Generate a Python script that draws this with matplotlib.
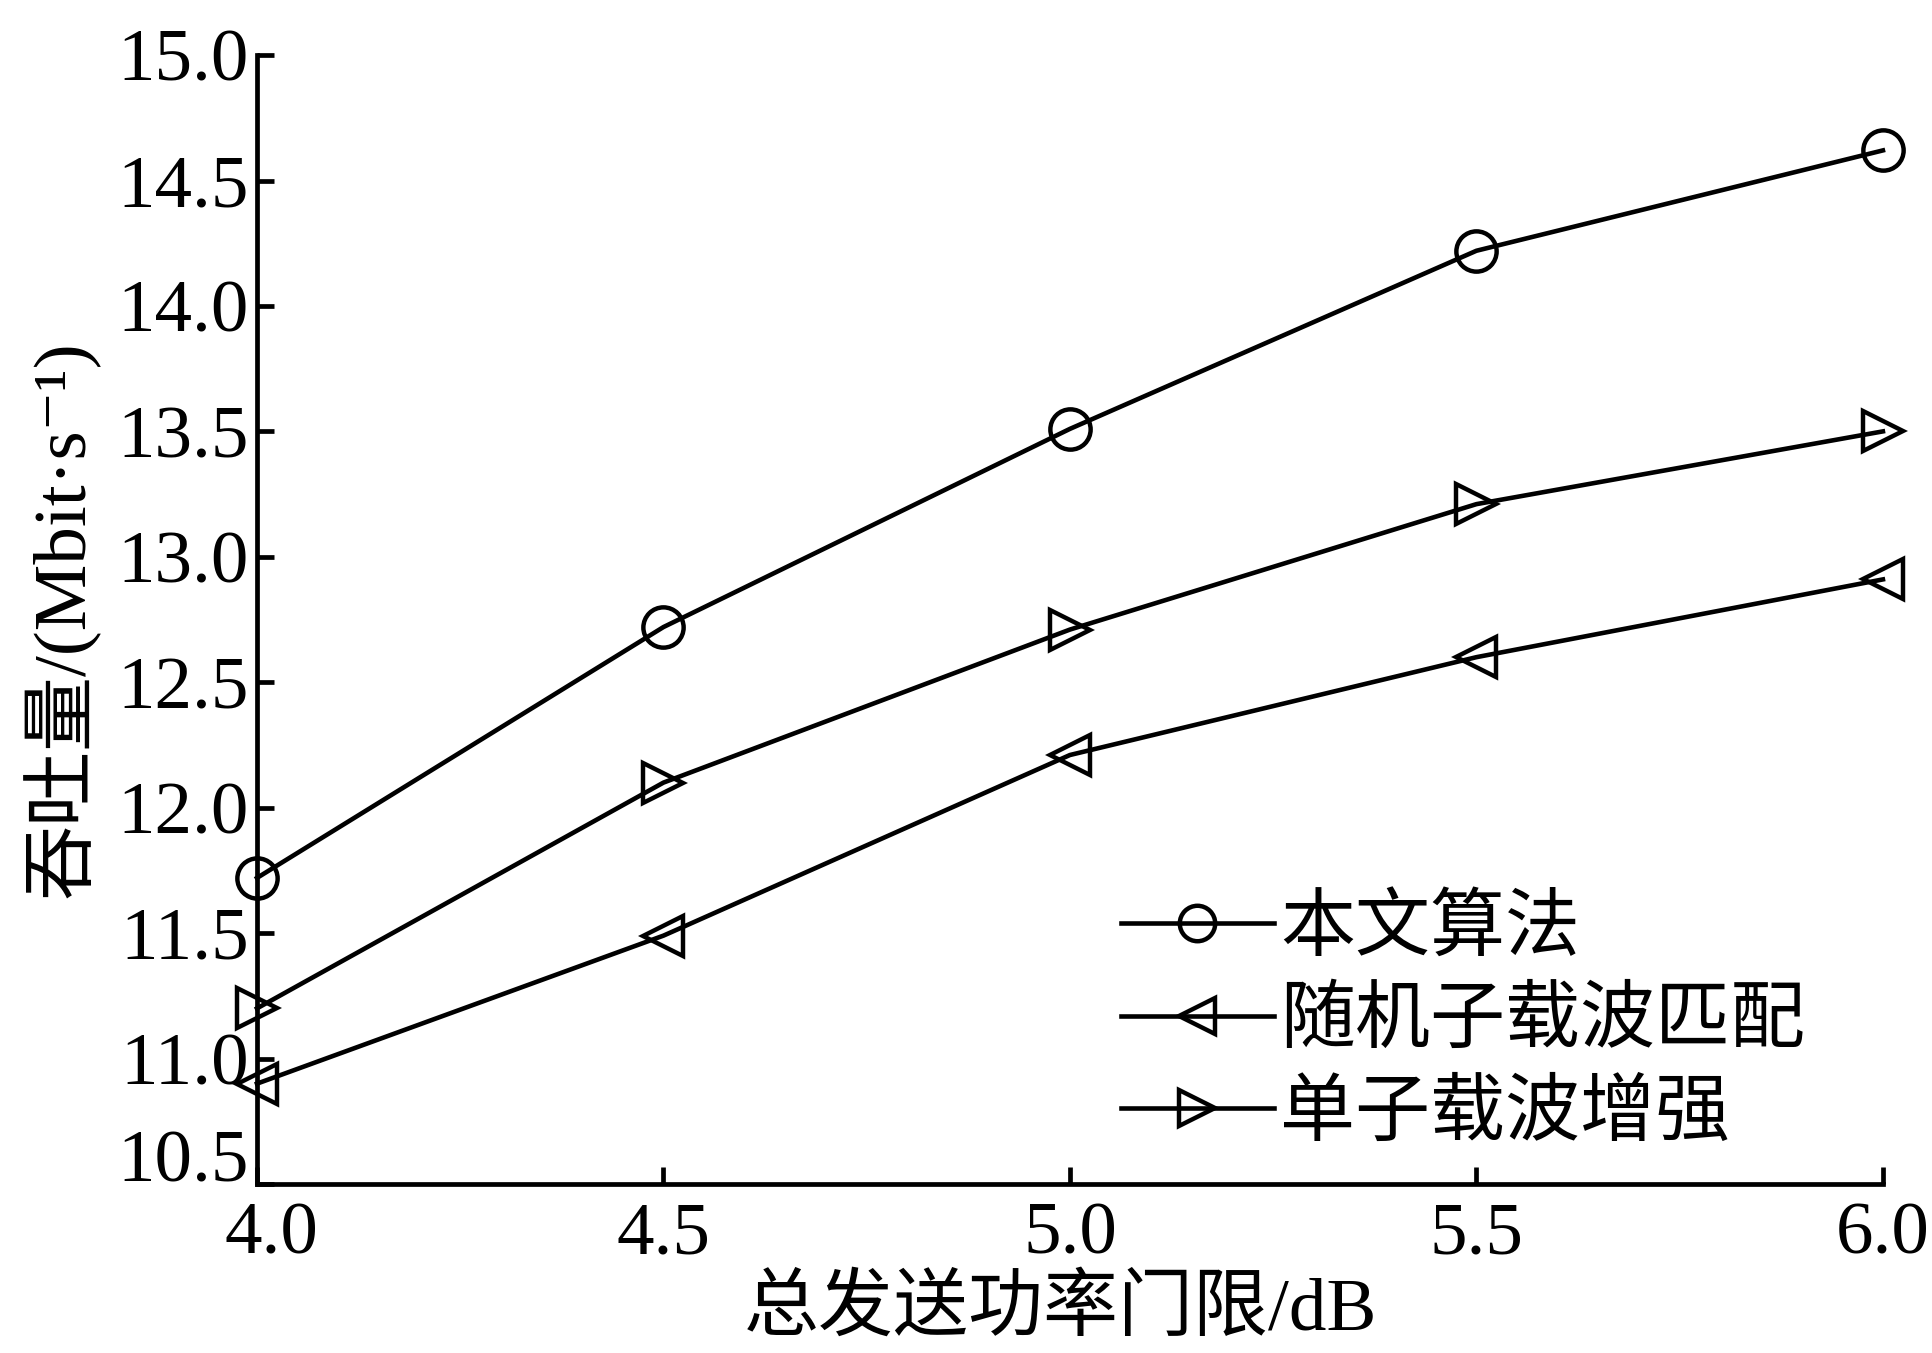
import numpy as np
import matplotlib
matplotlib.use("Agg")
import matplotlib.pyplot as plt
import matplotlib.transforms as mtransforms

# power threshold (dB)
x = [4.0, 4.5, 5.0, 5.5, 6.0]

# throughput (Mbit/s)
proposed = [11.72, 12.72, 13.51, 14.22, 14.62]   # 本文算法
random_match = [10.90, 11.49, 12.21, 12.60, 12.91]   # 随机子载波匹配
single_enh = [11.20, 12.10, 12.71, 13.21, 13.50]   # 单子载波增强

labels = ["本文算法", "随机子载波匹配", "单子载波增强"]
xticks = [4.0, 4.5, 5.0, 5.5, 6.0]
yticks = [10.5, 11.0, 11.5, 12.0, 12.5, 13.0, 13.5, 14.0, 14.5, 15.0]

fam = ["Liberation Serif", "DejaVu Serif", "Noto Sans CJK SC"]
plt.rcParams["font.family"] = fam

fig = plt.figure(figsize=(19.32, 13.53), dpi=100)
ax = fig.add_axes([0.133, 0.1249, 0.9746 - 0.133, 0.9593 - 0.1249])

lw = 3.3
common = dict(color="black", lw=lw, markersize=29, markerfacecolor="none",
              markeredgewidth=3.2, clip_on=False)
ax.plot(x, proposed, marker="o", label=labels[0], **common)
ax.plot(x, random_match, marker="<", label=labels[1], **common)
ax.plot(x, single_enh, marker=">", label=labels[2], **common)

ax.set_xlim(4.0, 6.0)
ax.set_ylim(10.5, 15.0)
ax.set_xticks(xticks)
ax.set_yticks(yticks)
ax.set_xticklabels(["%.1f" % v for v in xticks])
ax.set_yticklabels(["%.1f" % v for v in yticks])

for s in ["top", "right"]:
    ax.spines[s].set_visible(False)
for s in ["left", "bottom"]:
    ax.spines[s].set_linewidth(3.4)

ax.tick_params(direction="in", length=12, width=3.4, labelsize=54,
               top=False, right=False)
ax.tick_params(axis="y", pad=6)
ax.tick_params(axis="x", pad=13)

# the first labels sit a little off their ticks in the original
lab_y0 = ax.yaxis.get_major_ticks()[0].label1
lab_y0.set_transform(lab_y0.get_transform() +
                     mtransforms.ScaledTranslation(0, 28 / 100, fig.dpi_scale_trans))
lab_x0 = ax.xaxis.get_major_ticks()[0].label1
lab_x0.set_transform(lab_x0.get_transform() +
                     mtransforms.ScaledTranslation(14 / 100, 0, fig.dpi_scale_trans))

ax.set_xlabel("总发送功率门限/dB", fontsize=54)
ax.set_ylabel("吞吐量/(Mbit·s⁻¹)", fontsize=54)
ax.xaxis.set_label_coords(0.494, -0.081)
ax.yaxis.set_label_coords(-0.097, 0.5)

leg = ax.legend(loc="upper left", bbox_to_anchor=(0.580, 0.338),
                bbox_transform=fig.transFigure, frameon=False, fontsize=54,
                borderaxespad=0, borderpad=0, handlelength=2.05,
                handletextpad=0.08, labelspacing=0.31, markerscale=0.88)

fig.savefig("out.png", dpi=100)
